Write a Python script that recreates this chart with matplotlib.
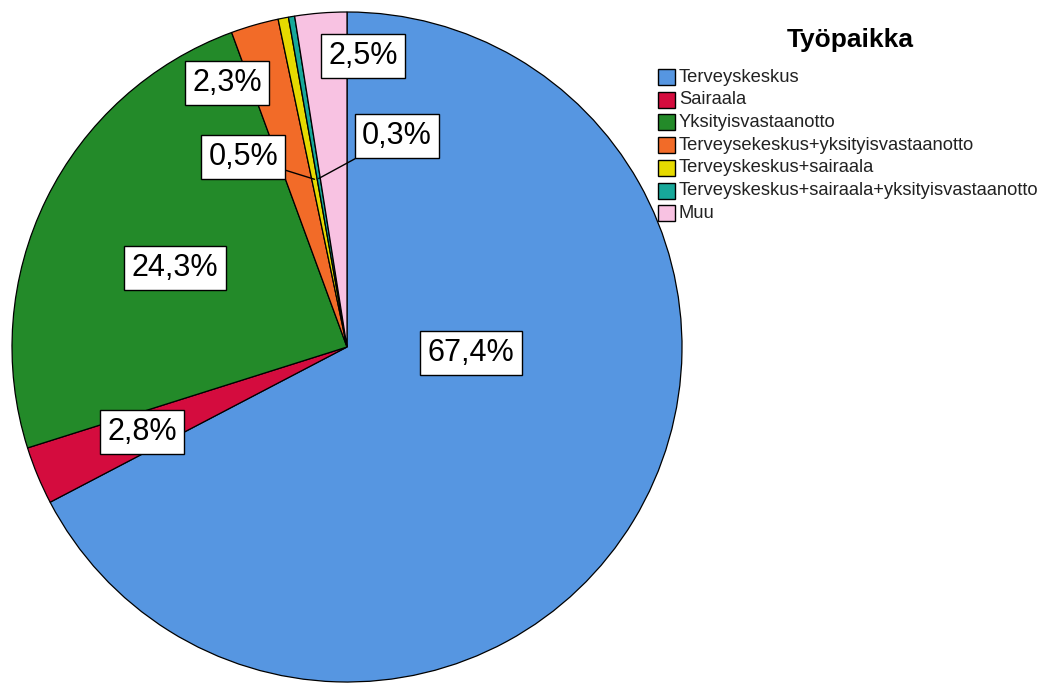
import matplotlib
matplotlib.use("Agg")
import matplotlib.pyplot as plt
from matplotlib.patches import Rectangle
import numpy as np

plt.rcParams["font.family"] = ["Liberation Sans", "DejaVu Sans"]

categories = [
    "Terveyskeskus",
    "Sairaala",
    "Yksityisvastaanotto",
    "Terveysekeskus+yksityisvastaanotto",
    "Terveyskeskus+sairaala",
    "Terveyskeskus+sairaala+yksityisvastaanotto",
    "Muu",
]
shares = [67.4, 2.8, 24.3, 2.3, 0.5, 0.3, 2.5]
colors = ["#5696e1", "#d40c3e", "#238a29", "#f26b28", "#e6da00", "#17a89a", "#f8c2e2"]
legend_title = "Työpaikka"

# label box centres (pie radius = 1) and optional leader-line anchor radius
label_pos = [(0.370, -0.018), (-0.612, -0.254), (-0.513, 0.236), (-0.358, 0.788),
             (-0.310, 0.567), (0.149, 0.630), (0.048, 0.869)]
leader = [None, None, None, None, 0.51, 0.51, None]

W, H = 1056, 684
fig = plt.figure(figsize=(W / 100, H / 100), dpi=100)
cx, cy, r = 347, 347, 335
ax = fig.add_axes([(cx - r) / W, (H - cy - r) / H, 2 * r / W, 2 * r / H])
wedges, _ = ax.pie(shares, colors=colors, startangle=90, counterclock=False,
                   wedgeprops=dict(edgecolor="black", linewidth=0.9))
ax.set_xlim(-1, 1)
ax.set_ylim(-1, 1)
ax.set_aspect("equal")
ax.axis("off")

box = dict(boxstyle="square,pad=0.24", fc="white", ec="black", lw=1)
for w, val, (lx, ly), lr in zip(wedges, shares, label_pos, leader):
    txt = f"{val:.1f}%".replace(".", ",")
    if lr is not None:
        mid = np.deg2rad((w.theta1 + w.theta2) / 2)
        ax.annotate(txt, xy=(lr * np.cos(mid), lr * np.sin(mid)), xytext=(lx, ly),
                    ha="center", va="center", fontsize=22, bbox=box,
                    arrowprops=dict(arrowstyle="-", color="black", lw=1,
                                    shrinkA=0, shrinkB=0))
    else:
        ax.text(lx, ly, txt, ha="center", va="center", fontsize=22, bbox=box)

# legend drawn in figure pixel units
fig.text(850 / W, 1 - 40 / H, legend_title, ha="center", va="center",
         fontsize=19, fontweight="bold")
row0, step = 77, 22.7
for i, (name, col) in enumerate(zip(categories, colors)):
    yc = row0 + i * step
    fig.add_artist(Rectangle((658 / W, 1 - (yc + 8) / H), 17 / W, 16 / H,
                             transform=fig.transFigure, facecolor=col,
                             edgecolor="black", linewidth=1))
    fig.text(679 / W, 1 - yc / H, name, ha="left", va="center", fontsize=13.2,
             color="#222222")

fig.savefig("out.png", dpi=100)
